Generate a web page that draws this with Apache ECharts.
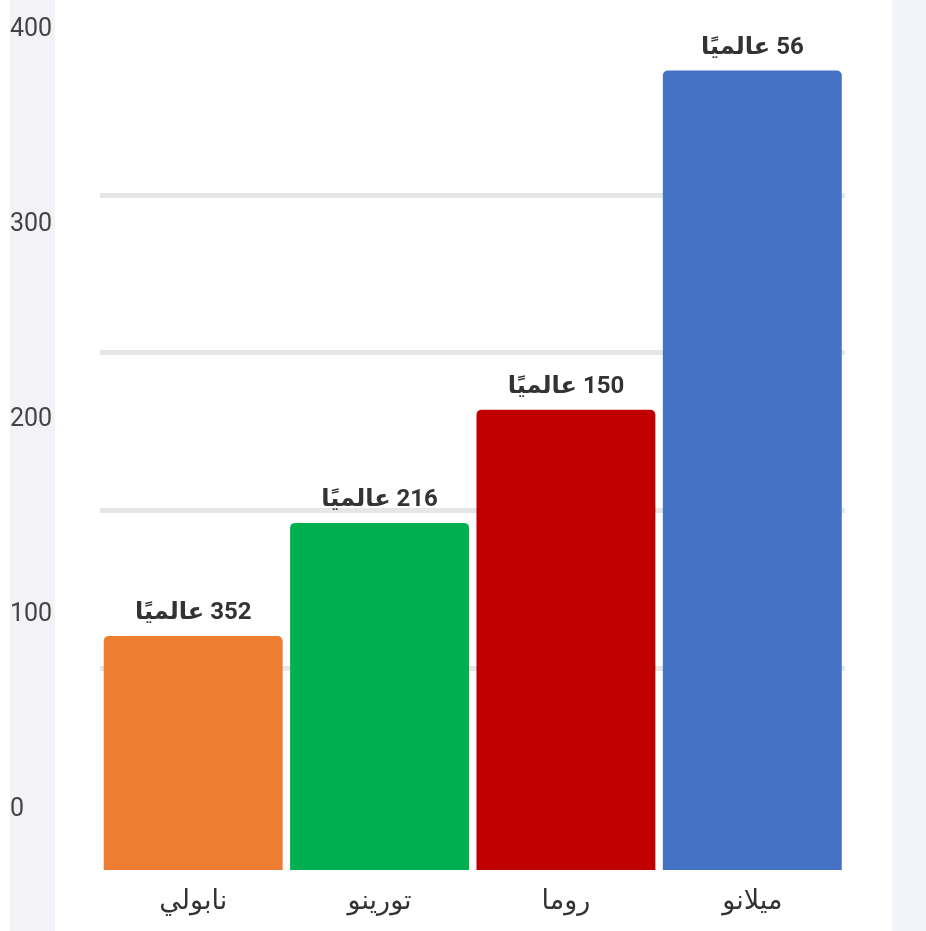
<!DOCTYPE html>
<html>
<head>
<meta charset="utf-8">
<script src="https://cdn.jsdelivr.net/npm/echarts@6/dist/echarts.min.js"></script>
<style>
  html, body { margin: 0; padding: 0; background: #fff; }
  #chart { width: 926px; height: 931px; }
</style>
</head>
<body>
<div id="chart"></div>
<script>
var cities = ['نابولي', 'تورينو', 'روما', 'ميلانو'];
var values = [120, 178, 236, 410];
var ranks = [352, 216, 150, 56];
var colors = ['#ED7D31', '#00B050', '#C00000', '#4472C4'];
var tickLabels = [0, 100, 200, 300, 400];
var guideLines = [0, 1, 2, 3];

var myChart = echarts.init(document.getElementById('chart'));

var barData = values.map(function(v, i) {
    return { value: v, itemStyle: { color: colors[i] } };
});

var option = {
    backgroundColor: '#fff',
    animation: false,
    textStyle: { fontFamily: 'Roboto, "DejaVu Sans", sans-serif' },
    graphic: [
        { type: 'rect', z: -10, shape: { x: 10, y: 0, width: 45, height: 931 }, style: { fill: '#f3f3f7' } },
        { type: 'rect', z: -10, shape: { x: 892, y: 0, width: 34, height: 931 }, style: { fill: '#f3f4f9' } }
    ],
    grid: [
        // bars
        { left: 100, right: 80.5, top: 51, bottom: 61 },
        // grey guide lines
        { left: 100, right: 81, top: 195, bottom: 263 },
        // left labels
        { left: 10, width: 1, top: 30, bottom: 121 }
    ],
    xAxis: [
        {
            gridIndex: 0,
            type: 'category',
            data: cities,
            axisLine: { show: false },
            axisTick: { show: false },
            axisLabel: { color: '#333', fontSize: 27, margin: 19 }
        },
        { gridIndex: 1, type: 'value', show: false },
        { gridIndex: 2, type: 'value', show: false }
    ],
    yAxis: [
        { gridIndex: 0, type: 'value', min: 0, max: 420, show: false },
        {
            gridIndex: 1,
            type: 'value',
            min: guideLines[0],
            max: guideLines[guideLines.length - 1],
            interval: 1,
            axisLine: { show: false },
            axisTick: { show: false },
            axisLabel: { show: false },
            splitLine: { lineStyle: { color: '#e6e6e6', width: 5 } }
        },
        {
            gridIndex: 2,
            type: 'value',
            min: tickLabels[0],
            max: tickLabels[tickLabels.length - 1],
            interval: 100,
            axisLine: { show: false },
            axisTick: { show: false },
            splitLine: { show: false },
            axisLabel: { inside: true, margin: 0, color: '#444', fontSize: 25 }
        }
    ],
    series: [
        {
            type: 'bar',
            xAxisIndex: 0,
            yAxisIndex: 0,
            data: barData,
            barWidth: '96%',
            clip: false,
            z: 5,
            itemStyle: { borderRadius: [5, 5, 0, 0] },
            label: {
                show: true,
                position: 'top',
                distance: 11,
                color: '#333',
                fontSize: 24,
                fontWeight: 'bold',
                formatter: function(p) {
                    return '\u200F' + ranks[p.dataIndex] + ' عالميًا';
                }
            }
        }
    ]
};

myChart.setOption(option);
</script>
</body>
</html>
